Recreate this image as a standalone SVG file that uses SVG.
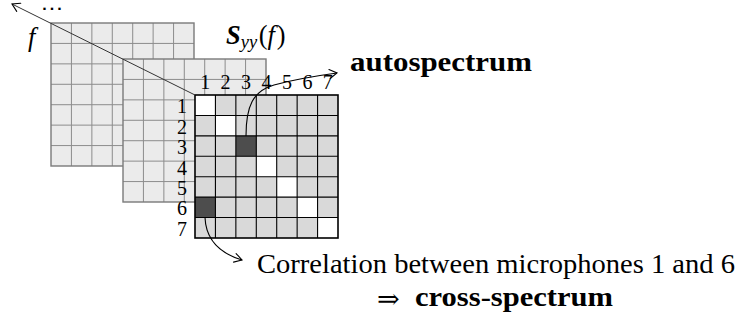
<svg xmlns="http://www.w3.org/2000/svg" xmlns:xlink="http://www.w3.org/1999/xlink" width="740" height="320" viewBox="0 0 740 320">
  <style>
    .back-bg { fill: #ebebeb; }
    .back-grid { stroke: #8c8c8c; stroke-width: 1; fill: none; }
    .back-border { stroke: #7a7a7a; stroke-width: 1.4; fill: none; }
    .front-bg { fill: #d9d9d9; }
    .front-grid { stroke: #000; stroke-width: 1.1; fill: none; }
    .front-border { stroke: #000; stroke-width: 1.6; fill: none; }
    .white { fill: #ffffff; }
    .dark { fill: #4d4d4d; }
    .conn { stroke: #000; stroke-width: 1.1; fill: none; }
    .axis { stroke: #333; stroke-width: 1; fill: none; }
  </style>
  <defs>
    <g id="gridLines">
      <line x1="20.43" y1="0" x2="20.43" y2="143"/>
      <line x1="40.86" y1="0" x2="40.86" y2="143"/>
      <line x1="61.29" y1="0" x2="61.29" y2="143"/>
      <line x1="81.71" y1="0" x2="81.71" y2="143"/>
      <line x1="102.14" y1="0" x2="102.14" y2="143"/>
      <line x1="122.57" y1="0" x2="122.57" y2="143"/>
      <line x1="0" y1="20.43" x2="143" y2="20.43"/>
      <line x1="0" y1="40.86" x2="143" y2="40.86"/>
      <line x1="0" y1="61.29" x2="143" y2="61.29"/>
      <line x1="0" y1="81.71" x2="143" y2="81.71"/>
      <line x1="0" y1="102.14" x2="143" y2="102.14"/>
      <line x1="0" y1="122.57" x2="143" y2="122.57"/>
    </g>
    <marker id="arrow" markerUnits="userSpaceOnUse" viewBox="-9 -6 11 12" refX="0" refY="0" markerWidth="11" markerHeight="12" orient="auto" overflow="visible">
      <path d="M-7.5,-4.5 Q-2,-1.2 0,0 Q-2,1.2 -7.5,4.5" stroke="#000" stroke-width="1.1" fill="none" stroke-linecap="round"/>
    </marker>
  </defs>

  <!-- back matrix (frequency slice) -->
  <g id="matrix-back">
    <rect class="back-bg" x="51" y="23" width="143" height="143"/>
    <use xlink:href="#gridLines" class="back-grid" transform="translate(51,23)"/>
    <rect class="back-border" x="51" y="23" width="143" height="143"/>
  </g>

  <!-- middle matrix -->
  <g id="matrix-middle">
    <rect class="back-bg" x="123" y="59" width="143" height="143"/>
    <use xlink:href="#gridLines" class="back-grid" transform="translate(123,59)"/>
    <rect class="back-border" x="123" y="59" width="143" height="143"/>
  </g>

  <!-- front matrix S_yy(f) -->
  <g id="matrix-front">
    <rect class="front-bg" x="195" y="95" width="143" height="143"/>
    <rect class="white" x="195" y="95" width="20.43" height="20.43"/>
    <rect class="white" x="215.43" y="115.43" width="20.43" height="20.43"/>
    <rect class="dark" x="235.86" y="135.86" width="20.43" height="20.43"/>
    <rect class="white" x="256.29" y="156.29" width="20.43" height="20.43"/>
    <rect class="white" x="276.71" y="176.71" width="20.43" height="20.43"/>
    <rect class="white" x="297.14" y="197.14" width="20.43" height="20.43"/>
    <rect class="white" x="317.57" y="217.57" width="20.43" height="20.43"/>
    <rect class="dark" x="195" y="197.14" width="20.43" height="20.43"/>
    <use xlink:href="#gridLines" class="front-grid" transform="translate(195,95)"/>
    <rect class="front-border" x="195" y="95" width="143" height="143"/>
  </g>

  <!-- column labels -->
  <g id="col-labels" font-family="'Liberation Serif', 'Times New Roman', serif" font-size="20" fill="#000" text-anchor="middle">
    <text x="205.2" y="89">1</text>
    <text x="225.6" y="89">2</text>
    <text x="246.1" y="89">3</text>
    <text x="266.5" y="89">4</text>
    <text x="286.9" y="89">5</text>
    <text x="307.4" y="89">6</text>
    <text x="327.8" y="89">7</text>
  </g>

  <!-- row labels -->
  <g id="row-labels" font-family="'Liberation Serif', 'Times New Roman', serif" font-size="20" fill="#000" text-anchor="end">
    <text x="187" y="113.2">1</text>
    <text x="187" y="133.6">2</text>
    <text x="187" y="154">3</text>
    <text x="187" y="174.5">4</text>
    <text x="187" y="194.9">5</text>
    <text x="187" y="215.3">6</text>
    <text x="187" y="235.7">7</text>
  </g>

  <!-- title S_yy(f) -->
  <g id="title" font-family="'Liberation Serif', 'Times New Roman', serif" fill="#000">
    <text x="226" y="44" font-size="26.4"><tspan font-weight="bold" font-style="italic">S</tspan><tspan font-style="italic" font-size="18.5" dy="4">yy</tspan><tspan dy="-4" dx="1.5">(</tspan><tspan font-style="italic">f</tspan><tspan dx="2">)</tspan></text>
  </g>

  <!-- frequency axis label -->
  <g id="freq-label" fill="#000">
    <text x="28" y="46" font-family="'Liberation Serif', 'Times New Roman', serif" font-style="italic" font-size="26.4">f</text>
    <text x="52" y="12.5" font-family="'DejaVu Sans', sans-serif" font-weight="bold" font-size="13" text-anchor="middle" textLength="20" lengthAdjust="spacing">···</text>
  </g>

  <!-- annotation: autospectrum -->
  <g id="label-auto" font-family="'Liberation Serif', 'Times New Roman', serif" fill="#000">
    <text x="350" y="71" font-size="26.4" font-weight="bold" textLength="182" lengthAdjust="spacingAndGlyphs">autospectrum</text>
  </g>

  <!-- annotation: cross-spectrum -->
  <g id="label-cross" font-family="'Liberation Serif', 'Times New Roman', serif" fill="#000">
    <text x="257" y="273" font-size="26.4" textLength="478" lengthAdjust="spacingAndGlyphs">Correlation between microphones 1 and 6</text>
    <text x="377" y="308" font-family="'DejaVu Serif', serif" font-size="27">⇒</text>
    <text x="415" y="306" font-size="26.4" font-weight="bold" textLength="198" lengthAdjust="spacingAndGlyphs">cross-spectrum</text>
  </g>

  <!-- connectors -->
  <g id="connectors">
    <line class="axis" x1="195" y1="95" x2="12" y2="4" marker-end="url(#arrow)"/>
    <path class="conn" d="M246,136 C246,106 253,91 274,85 C292,80 315,76 337,73" marker-end="url(#arrow)"/>
    <path class="conn" d="M205,217.6 C206,242 222,254 242,260" marker-end="url(#arrow)"/>
  </g>
</svg>
